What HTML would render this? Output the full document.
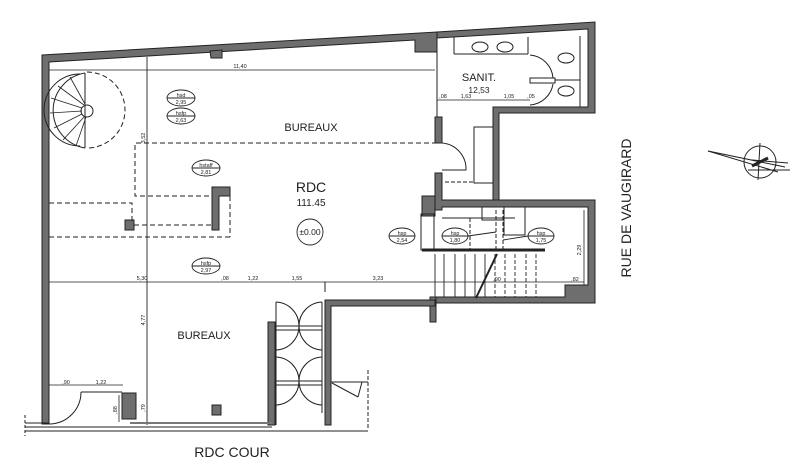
<!DOCTYPE html>
<html><head><meta charset="utf-8"><style>
html,body{margin:0;padding:0;background:#fff;}
svg{display:block;font-family:"Liberation Sans",sans-serif;}
</style></head><body>
<svg width="800" height="463" viewBox="0 0 800 463" xmlns="http://www.w3.org/2000/svg">
<g fill="#6e6e6e" stroke="#222" stroke-width="1">
<polygon points="42,55 437,32 437,52 415,52 415,40 49,62 49,424 42,424"/>
<polygon points="210,51 222,50 222,58 211,58"/>
<polygon points="437,32 595,22 595,113 499,113 499,200 493,200 493,107 588,107 588,29 437,38"/>
<rect x="435" y="117" width="7" height="26"/>
<polygon points="435,173 442,173 442,200 595,200 595,303 432,303 432,297 565,297 565,285 588,285 588,207 442,207 442,210 435,210"/>
<rect x="422" y="196" width="13" height="20"/>
<rect x="430" y="297" width="6" height="25"/>
<polygon points="325,300 435,300 435,306 331,306 331,425 325,425"/>
<rect x="268" y="322" width="7" height="103"/>
<polygon points="212,187 230,187 230,196 219,196 219,230 212,230"/>
<rect x="125" y="220" width="9" height="10"/>
<rect x="212" y="405" width="9" height="10"/>
<rect x="122" y="393" width="14" height="26"/>
</g>
<g fill="none" stroke="#222" stroke-width="1">
<line x1="437" y1="38" x2="437" y2="117"/>
<line x1="454" y1="37" x2="454" y2="54"/><line x1="454" y1="54" x2="528" y2="54"/>
<line x1="528" y1="37" x2="528" y2="54"/>
<ellipse cx="480" cy="47" rx="8" ry="5"/><ellipse cx="505" cy="47" rx="8" ry="5"/>
<line x1="530" y1="80" x2="580" y2="80"/>
<line x1="580" y1="36" x2="580" y2="107"/>
<ellipse cx="566" cy="58" rx="8" ry="5"/><ellipse cx="566" cy="91" rx="8" ry="5"/>
<rect x="530" y="78" width="25" height="5" fill="#fff"/>
<path d="M530,55 A25,25 0 0 1 553,78"/>
<path d="M530,105 A25,25 0 0 0 553,84"/>
<line x1="437" y1="100" x2="530" y2="100" stroke-width="0.8"/>
<rect x="474" y="127" width="19" height="56"/>
<path d="M442,143 A26,26 0 0 1 466,170 L442,170"/>
<line x1="445" y1="182" x2="474" y2="182" stroke-dasharray="4,2"/>
<line x1="49" y1="70" x2="435" y2="70" stroke-width="0.8"/>
<line x1="147" y1="57" x2="147" y2="425" stroke-width="0.9"/>
<line x1="49" y1="282" x2="435" y2="282" stroke-width="0.8"/>
<line x1="325" y1="282" x2="325" y2="292"/>
<g stroke-dasharray="5,3">
<polyline points="437,143 135,143 135,196 212,196"/>
<polyline points="49,203 132,203 132,222"/>
<line x1="49" y1="237" x2="230" y2="237"/>
<line x1="230" y1="196" x2="230" y2="237"/>
<line x1="134" y1="225" x2="212" y2="225"/>
<path d="M87,72 A38,38 0 0 1 87,148"/>
</g>
<path d="M85,73 A38,38 0 0 0 85,148" />
<path d="M80,74 A36,36 0 0 0 80,146"/>
<line x1="85" y1="73" x2="85" y2="148"/>
<circle cx="87" cy="111" r="6"/>
<g stroke-width="0.8">
<line x1="82" y1="108" x2="51" y2="98"/><line x1="82" y1="111" x2="50" y2="113"/><line x1="82" y1="114" x2="54" y2="128"/>
<line x1="84" y1="117" x2="63" y2="140"/><line x1="84" y1="105" x2="58" y2="86"/><line x1="85" y1="104" x2="70" y2="77"/><line x1="86" y1="117" x2="76" y2="146"/>
</g>
<rect x="421" y="214" width="13" height="36"/>
<line x1="422" y1="250" x2="545" y2="250" stroke-width="3"/>
<line x1="442" y1="218" x2="515" y2="218"/>
<rect x="482" y="207" width="22" height="13"/>
<rect x="504" y="207" width="21" height="28"/>
<line x1="421" y1="218" x2="421" y2="250" stroke-dasharray="4,2"/>
<line x1="470" y1="218" x2="470" y2="250" stroke-dasharray="4,2"/>
<line x1="496" y1="210" x2="496" y2="250" stroke-dasharray="4,2"/>
<line x1="503" y1="210" x2="503" y2="250" stroke-dasharray="4,2"/>
<g stroke-width="0.9">
<line x1="435" y1="254" x2="435" y2="297"/><line x1="444" y1="254" x2="444" y2="297"/><line x1="455" y1="254" x2="455" y2="297"/>
<line x1="465" y1="254" x2="465" y2="297"/><line x1="475" y1="254" x2="475" y2="297"/><line x1="485" y1="254" x2="485" y2="297"/>
</g>
<g stroke-dasharray="4,2" stroke-width="0.9">
<line x1="495" y1="254" x2="495" y2="297"/><line x1="505" y1="254" x2="505" y2="297"/><line x1="515" y1="254" x2="515" y2="297"/>
<line x1="526" y1="254" x2="526" y2="297"/><line x1="536" y1="254" x2="536" y2="297"/>
</g>
<line x1="476" y1="298" x2="497" y2="254" stroke-width="2"/>
<line x1="584" y1="210" x2="584" y2="285" stroke-width="0.8"/>
<line x1="435" y1="282" x2="584" y2="282" stroke-width="0.8"/>
<line x1="276" y1="302" x2="276" y2="425"/>
<line x1="276" y1="326" x2="322" y2="326"/><line x1="276" y1="330" x2="322" y2="330"/>
<line x1="276" y1="381" x2="322" y2="381"/><line x1="276" y1="385" x2="322" y2="385"/>
<line x1="322" y1="302" x2="322" y2="413"/>
<path d="M276,302 A24,24 0 0 1 299,326 A24,24 0 0 1 276,350"/>
<path d="M322,302 A24,24 0 0 0 299,326 A24,24 0 0 0 322,350"/>
<path d="M276,357 A24,24 0 0 1 299,381 A24,24 0 0 1 276,405"/>
<path d="M322,357 A24,24 0 0 0 299,381 A24,24 0 0 0 322,405"/>
<line x1="331" y1="382" x2="368" y2="382"/><line x1="332" y1="383" x2="358" y2="397"/><line x1="358" y1="397" x2="362" y2="382"/>
<line x1="368" y1="370" x2="368" y2="428" stroke-dasharray="4,2"/>
<line x1="25" y1="423" x2="49" y2="423"/>
<line x1="25" y1="427" x2="272" y2="427"/>
<line x1="25" y1="431" x2="368" y2="431"/>
<line x1="25" y1="415" x2="25" y2="436" stroke-dasharray="3,2"/>
<line x1="130" y1="423" x2="272" y2="423" stroke-width="2" stroke="#777"/>
<path d="M81,392 A32,32 0 0 1 49,424"/>
<line x1="81" y1="392" x2="122" y2="392"/>
<line x1="49" y1="385" x2="123" y2="385" stroke-width="0.8"/>
<line x1="119" y1="395" x2="119" y2="422" stroke-width="0.8"/>
<g stroke-width="0.9">
<ellipse cx="181" cy="98" rx="14" ry="8"/><line x1="167" y1="98" x2="195" y2="98"/>
<ellipse cx="181" cy="116" rx="14" ry="8"/><line x1="167" y1="116" x2="195" y2="116"/>
<ellipse cx="206" cy="168" rx="14" ry="8"/><line x1="192" y1="168" x2="220" y2="168"/>
<ellipse cx="206" cy="266" rx="14" ry="8"/><line x1="192" y1="266" x2="220" y2="266"/>
<ellipse cx="402" cy="236" rx="13" ry="8"/><line x1="389" y1="236" x2="415" y2="236"/>
<ellipse cx="455" cy="236" rx="13" ry="8"/><line x1="442" y1="236" x2="468" y2="236"/>
<ellipse cx="541" cy="236" rx="13" ry="8"/><line x1="528" y1="236" x2="554" y2="236"/>
<line x1="468" y1="236" x2="496" y2="232"/><line x1="528" y1="236" x2="503" y2="240"/>
<circle cx="310" cy="232" r="13"/>
</g>
<circle cx="760" cy="162" r="16"/>
<line x1="708" y1="151" x2="785" y2="167"/>
<line x1="708" y1="151" x2="778" y2="172"/>
<line x1="760" y1="143" x2="758" y2="180"/>
<line x1="748" y1="170" x2="790" y2="170"/>
<line x1="752" y1="160" x2="788" y2="163"/>
<line x1="752" y1="166" x2="768" y2="158" stroke-width="3"/>
</g>
<g fill="#222">
<text x="311" y="131" font-size="11" text-anchor="middle">BUREAUX</text>
<text x="311" y="192" font-size="14" text-anchor="middle">RDC</text>
<text x="311" y="206" font-size="10" text-anchor="middle">111.45</text>
<text x="310" y="235" font-size="8.5" text-anchor="middle">±0.00</text>
<text x="479" y="81" font-size="11" text-anchor="middle">SANIT.</text>
<text x="479" y="93" font-size="8.5" text-anchor="middle">12,53</text>
<text x="204" y="339" font-size="11" text-anchor="middle">BUREAUX</text>
<text x="232" y="457" font-size="14" text-anchor="middle">RDC COUR</text>
<text transform="translate(631,208) rotate(-90)" font-size="14" text-anchor="middle">RUE DE VAUGIRARD</text>
<g font-size="5.5" text-anchor="middle">
<text x="240" y="68">11,40</text>
<text x="142" y="280">5,30</text><text x="225" y="280">,08</text><text x="253" y="280">1,22</text>
<text x="297" y="280">1,55</text><text x="378" y="280">3,23</text>
<text x="443" y="98">,08</text><text x="466" y="98">1,63</text><text x="509" y="98">1,05</text><text x="531" y="98">,05</text>
<text x="66" y="384">,90</text><text x="101" y="384">1,22</text>
<text x="497" y="281">,90</text><text x="575" y="281">,82</text>
<text x="181" y="97">hsd</text><text x="181" y="104">2,95</text>
<text x="181" y="115">hsfp</text><text x="181" y="122">2,63</text>
<text x="206" y="167">hstaff</text><text x="206" y="174">2,81</text>
<text x="206" y="265">hsfp</text><text x="206" y="272">2,97</text>
<text x="402" y="235">hsp</text><text x="402" y="242">2,54</text>
<text x="455" y="235">hsp</text><text x="455" y="242">1,80</text>
<text x="541" y="235">hsp</text><text x="541" y="242">1,75</text>
<text transform="translate(145,138) rotate(-90)">3,52</text>
<text transform="translate(145,320) rotate(-90)">4,77</text>
<text transform="translate(581,250) rotate(-90)">2,29</text>
<text transform="translate(117,410) rotate(-90)">,88</text>
<text transform="translate(145,408) rotate(-90)">,79</text>
</g>
</g>
</svg>
</body></html>
